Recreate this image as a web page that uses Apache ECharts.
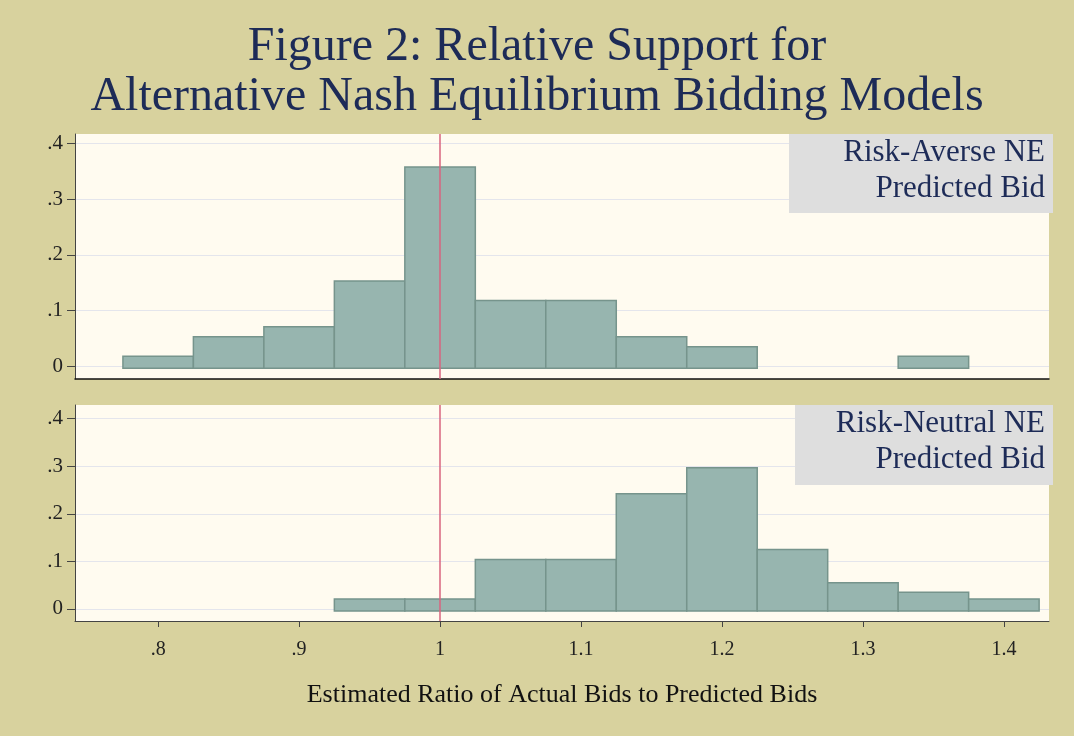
<!DOCTYPE html>
<html>
<head>
<meta charset="utf-8">
<script src="https://cdn.jsdelivr.net/npm/echarts@6/dist/echarts.min.js"></script>
<style>
html, body { margin: 0; padding: 0; background: #d8d29e; }
#chart { width: 1074px; height: 736px; }
</style>
</head>
<body>
<div id="chart"></div>
<script>
// histogram bins (lower edge) and fraction of auctions in each bin
var binWidth = 0.05;
var averseBins = [0.775, 0.825, 0.875, 0.925, 0.975, 1.025, 1.075, 1.125, 1.175, 1.325];
var averseFrac = [0.018, 0.053, 0.071, 0.153, 0.358, 0.118, 0.118, 0.053, 0.035, 0.018];
var neutralBins = [0.925, 0.975, 1.025, 1.075, 1.125, 1.175, 1.225, 1.275, 1.325, 1.375];
var neutralFrac = [0.021, 0.021, 0.104, 0.104, 0.242, 0.297, 0.125, 0.055, 0.035, 0.021];
var xTicks = [0.8, 0.9, 1.0, 1.1, 1.2, 1.3, 1.4];
var yTicks = [0, 0.1, 0.2, 0.3, 0.4];

var FONT = 'Liberation Serif';
var NAVY = '#1d2b57';

function stataNum(v) {
    var s = String(Math.round(v * 10) / 10);
    return s.replace(/^0\./, '.');
}

function toBins(starts, vals) {
    var out = [];
    for (var i = 0; i < starts.length; i++) {
        out.push([starts[i], starts[i] + binWidth, vals[i]]);
    }
    return out;
}

function renderBin(params, api) {
    var p0 = api.coord([api.value(0), api.value(2)]);
    var p1 = api.coord([api.value(1), 0]);
    return {
        type: 'rect',
        shape: { x: p0[0], y: p0[1], width: p1[0] - p0[0], height: p1[1] - p0[1] + 2 },
        style: { fill: '#97b5af', stroke: '#76948c', lineWidth: 1.5 }
    };
}

function xAxisOpt(idx, showLabels) {
    return {
        type: 'value', gridIndex: idx, min: 0.741, max: 1.432,
        axisLine: { show: true, onZero: false, lineStyle: { color: showLabels ? '#444' : '#111', width: showLabels ? 1 : 1.5 } },
        axisTick: { show: showLabels, customValues: xTicks, length: 6, lineStyle: { color: '#444' } },
        axisLabel: { show: showLabels, customValues: xTicks, formatter: stataNum, margin: 19,
            fontFamily: FONT, fontSize: 20, color: '#222' },
        splitLine: { show: false },
        name: showLabels ? 'Estimated Ratio of Actual Bids to Predicted Bids' : '',
        nameLocation: 'middle', nameGap: 61,
        nameTextStyle: { fontFamily: FONT, fontSize: 26, color: '#111' }
    };
}

function yAxisOpt(idx, min, max) {
    return {
        type: 'value', gridIndex: idx, min: min, max: max,
        axisLine: { show: true, lineStyle: { color: '#444' } },
        axisTick: { show: true, customValues: yTicks, length: 8, lineStyle: { color: '#444' } },
        axisLabel: { customValues: yTicks, formatter: stataNum, margin: 12,
            fontFamily: FONT, fontSize: 21, color: '#222' },
        splitLine: { show: true, lineStyle: { color: '#e4e5ec', width: 1.2 } }
    };
}

function keyBox(top, left, height, line1, line2) {
    return [
        { type: 'rect', shape: { x: left, y: top, width: 1053 - left, height: height },
          style: { fill: '#dedede' }, z: 10 },
        { type: 'text', x: 1045, y: top + 1, z: 11,
          style: { text: line1 + '\n' + line2, align: 'right', verticalAlign: 'top',
                   font: '31px "' + FONT + '"', lineHeight: 36, fill: NAVY } }
    ];
}

var chart = echarts.init(document.getElementById('chart'));
var option = {
    backgroundColor: '#d8d29e',
    animation: false,
    title: {
        text: 'Figure 2: Relative Support for\nAlternative Nash Equilibrium Bidding Models',
        left: 'center', top: 17,
        textStyle: { fontFamily: FONT, fontSize: 48, fontWeight: 'normal', lineHeight: 50, color: NAVY }
    },
    grid: [
        { left: 75, right: 25, top: 134, height: 245, show: true, backgroundColor: '#fffbf0', borderWidth: 0 },
        { left: 75, right: 25, top: 405, height: 216, show: true, backgroundColor: '#fffbf0', borderWidth: 0 }
    ],
    xAxis: [xAxisOpt(0, false), xAxisOpt(1, true)],
    yAxis: [yAxisOpt(0, -0.023, 0.4174), yAxisOpt(1, -0.0253, 0.4288)],
    series: [
        {
            type: 'line', xAxisIndex: 0, yAxisIndex: 0, data: [], z: 1,
            markLine: { silent: true, symbol: 'none', label: { show: false },
                lineStyle: { color: '#d9657f', width: 1.5, type: 'solid' }, data: [{ xAxis: 1 }] }
        },
        {
            type: 'custom', xAxisIndex: 0, yAxisIndex: 0, z: 2,
            renderItem: renderBin, encode: { x: [0, 1], y: 2 },
            data: toBins(averseBins, averseFrac)
        },
        {
            type: 'custom', xAxisIndex: 1, yAxisIndex: 1, z: 2,
            renderItem: renderBin, encode: { x: [0, 1], y: 2 },
            data: toBins(neutralBins, neutralFrac)
        },
        {
            type: 'line', xAxisIndex: 1, yAxisIndex: 1, data: [], z: 3,
            markLine: { silent: true, symbol: 'none', label: { show: false },
                lineStyle: { color: '#d9657f', width: 1.5, type: 'solid' }, data: [{ xAxis: 1 }] }
        }
    ],
    graphic: keyBox(134, 789, 79, 'Risk-Averse NE', 'Predicted Bid')
        .concat(keyBox(405, 795, 80, 'Risk-Neutral NE', 'Predicted Bid'))
};
chart.setOption(option);
</script>
</body>
</html>
